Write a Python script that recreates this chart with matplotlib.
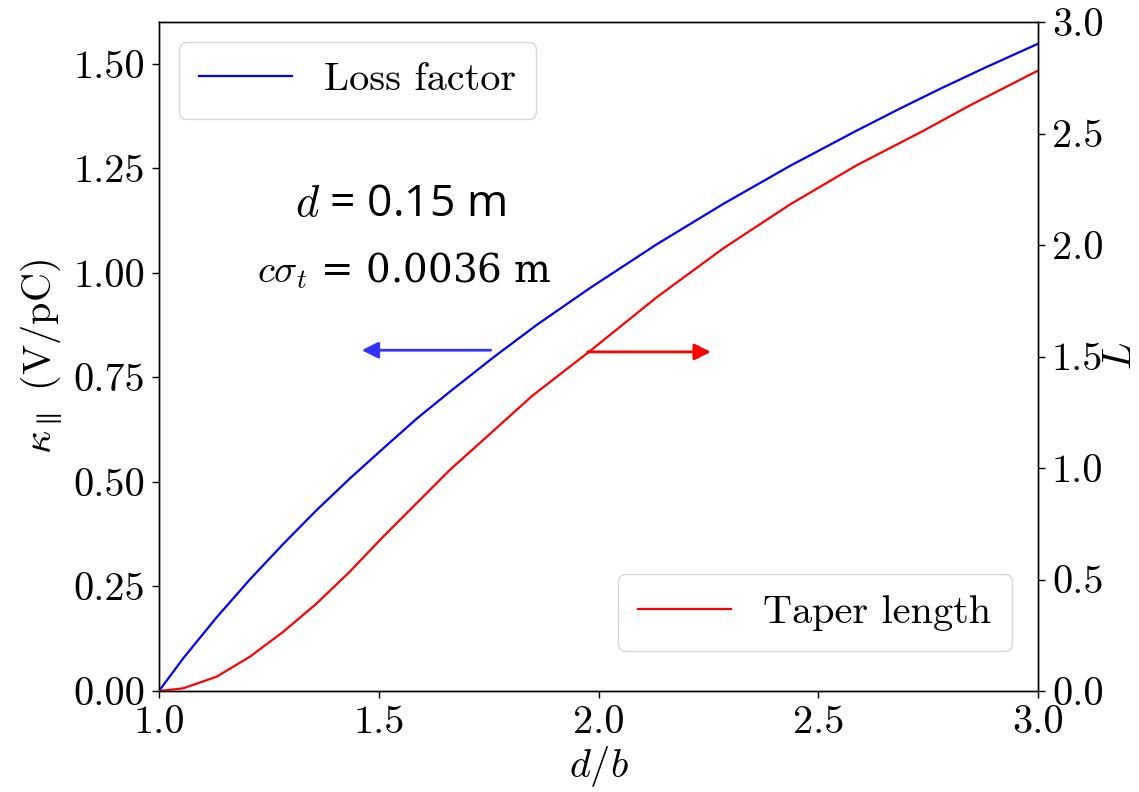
import matplotlib
matplotlib.use("Agg")
import matplotlib.pyplot as plt

plt.rcParams["font.family"] = "serif"
plt.rcParams["font.serif"] = ["cmr10", "DejaVu Serif"]
plt.rcParams["mathtext.fontset"] = "cm"
plt.rcParams["axes.formatter.use_mathtext"] = True
plt.rcParams["axes.unicode_minus"] = False

# loss factor (left axis, V/pC)
x_loss = [1.000, 1.055, 1.131, 1.207, 1.283, 1.359, 1.434, 1.510, 1.586, 1.662,
          1.761, 1.860, 1.981, 2.132, 2.284, 2.436, 2.587, 2.686, 2.777, 2.880, 3.000]
y_loss = [0.000, 0.078, 0.176, 0.267, 0.352, 0.433, 0.508, 0.580, 0.651, 0.716,
          0.798, 0.876, 0.964, 1.068, 1.165, 1.256, 1.340, 1.393, 1.440, 1.491, 1.548]

# taper length (right axis)
x_taper = [1.000, 1.055, 1.131, 1.207, 1.283, 1.359, 1.434, 1.510, 1.586, 1.662,
           1.730, 1.850, 1.981, 2.132, 2.284, 2.436, 2.587, 2.739, 2.845, 3.000]
y_taper = [0.000, 0.012, 0.064, 0.154, 0.266, 0.393, 0.535, 0.692, 0.842, 0.992,
           1.112, 1.325, 1.525, 1.765, 1.985, 2.182, 2.357, 2.512, 2.626, 2.782]

FS = 29
fig = plt.figure(figsize=(11.39, 7.92), dpi=100)
ax = fig.add_axes([159/1139, 1-691/792, 879/1139, 669/792])
ax2 = ax.twinx()

l1, = ax.plot(x_loss, y_loss, color="#0000ff", lw=1.6, label="Loss factor")
l2, = ax2.plot(x_taper, y_taper, color="#ff0000", lw=1.6, label="Taper length")

ax.set_xlim(1.0, 3.0); ax.set_ylim(0, 1.6)
ax2.set_ylim(0, 3.0)
ax.set_xticks([1.0, 1.5, 2.0, 2.5, 3.0])
ax.set_yticks([0, 0.25, 0.5, 0.75, 1.0, 1.25, 1.5])
ax.set_yticklabels(["0.00", "0.25", "0.50", "0.75", "1.00", "1.25", "1.50"])
ax.set_xticklabels(["1.0", "1.5", "2.0", "2.5", "3.0"])
ax2.set_yticks([0, 0.5, 1.0, 1.5, 2.0, 2.5, 3.0])
ax2.set_yticklabels(["0.0", "0.5", "1.0", "1.5", "2.0", "2.5", "3.0"])
for a in (ax, ax2):
    a.tick_params(labelsize=FS, length=5, width=1.0, pad=5)
    for s in a.spines.values():
        s.set_linewidth(1.0)

ax.set_xlabel("$d/b$", fontsize=FS, labelpad=2)
ax.set_ylabel(r"$\kappa_{\parallel}$ (V/pC)", fontsize=FS, labelpad=6)
ax2.set_ylabel("$L$", fontsize=FS, labelpad=0)

ax.legend(handles=[l1], loc="upper left", fontsize=FS, handlelength=2.3,
          borderpad=0.5, framealpha=1, edgecolor="#d8d8d8")
ax2.legend(handles=[l2], loc="lower right", fontsize=FS, handlelength=2.3,
           borderpad=0.5, framealpha=1, edgecolor="#d8d8d8",
           bbox_to_anchor=(0.993, 0.03))

# parameter annotation
fig.text(400/1139, 1-205/792, "$d$ = 0.15 m", family="Open Sans", fontsize=32,
         ha="center", va="center")
fig.text(404/1139, 1-271/792, r"$c\sigma_t$ = 0.0036 m", family="DejaVu Serif", fontsize=28,
         ha="center", va="center")

# arrows pointing to the axes
ax.annotate("", xy=(1.455, 0.815), xytext=(1.761, 0.815),
            arrowprops=dict(arrowstyle="-|>", color="#3333ff", lw=2, mutation_scale=25))
ax.annotate("", xy=(2.262, 0.811), xytext=(1.969, 0.811),
            arrowprops=dict(arrowstyle="-|>", color="#ff0000", lw=2, mutation_scale=25))

fig.savefig("out.png", dpi=100)
